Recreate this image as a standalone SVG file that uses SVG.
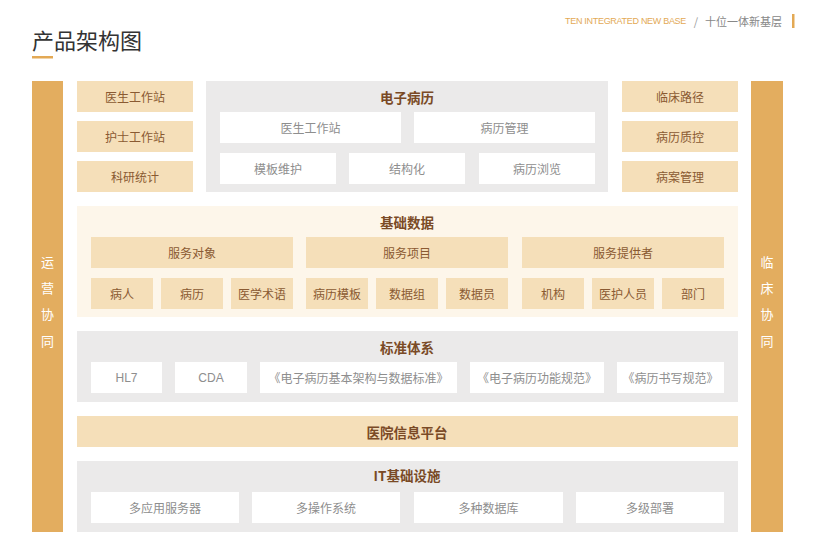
<svg xmlns="http://www.w3.org/2000/svg" width="830" height="558" viewBox="0 0 830 558">
<style>
text{font-family:"Noto Sans CJK SC","Noto Sans",sans-serif;text-anchor:middle;dominant-baseline:central}
.bar{fill:#e3ad5f}
.cream{fill:#f5dfb9}
.grey{fill:#ebeaea}
.light{fill:#fdf6ea}
.white{fill:#ffffff}
.t{font-size:12px;fill:#8a5a32}
.w{font-size:12px;fill:#8e8e8e}
.h{font-size:13.5px;font-weight:bold;fill:#7a4a26}
.v{font-size:13px;fill:#ffffff}
</style>
<rect width="830" height="558" fill="#ffffff"/>
<g id="header">
<text x="32" y="39" style="text-anchor:start;font-size:22px;fill:#333333">产品架构图</text>
<rect x="32" y="56" width="21" height="2.5" fill="#e3a955"/>
<text x="686" y="21" style="text-anchor:end;font-size:9px;fill:#e3a955;font-family:'Liberation Sans Narrow','Liberation Sans',sans-serif;letter-spacing:-0.3px">TEN INTEGRATED NEW BASE</text>
<text x="696" y="21" style="font-size:11px;fill:#999999">/</text>
<text x="705" y="21" style="text-anchor:start;font-size:11px;fill:#888888">十位一体新基层</text>
<rect x="792" y="14" width="2.5" height="14" fill="#e3a955"/>
</g>
<g id="left-bar">
<rect class="bar" x="32" y="81" width="31" height="451"/>
<text class="v" x="47.5" y="261">运</text>
<text class="v" x="47.5" y="287">营</text>
<text class="v" x="47.5" y="313">协</text>
<text class="v" x="47.5" y="340">同</text>
</g>
<g id="right-bar">
<rect class="bar" x="751" y="81" width="32" height="451"/>
<text class="v" x="767" y="261">临</text>
<text class="v" x="767" y="287">床</text>
<text class="v" x="767" y="313">协</text>
<text class="v" x="767" y="340">同</text>
</g>
<g id="left-apps">
<rect class="cream" x="77" y="81" width="116" height="31"/><text class="t" x="135" y="96.5">医生工作站</text>
<rect class="cream" x="77" y="121" width="116" height="31"/><text class="t" x="135" y="136.5">护士工作站</text>
<rect class="cream" x="77" y="161" width="116" height="31"/><text class="t" x="135" y="176.5">科研统计</text>
</g>
<g id="emr">
<rect class="grey" x="206" y="81" width="402" height="111"/>
<text class="h" x="407" y="97">电子病历</text>
<rect class="white" x="220" y="112" width="181" height="31"/><text class="w" x="310.5" y="127.5">医生工作站</text>
<rect class="white" x="414" y="112" width="181" height="31"/><text class="w" x="504.5" y="127.5">病历管理</text>
<rect class="white" x="220" y="153" width="116" height="31"/><text class="w" x="278" y="168.5">模板维护</text>
<rect class="white" x="349" y="153" width="116" height="31"/><text class="w" x="407" y="168.5">结构化</text>
<rect class="white" x="479" y="153" width="116" height="31"/><text class="w" x="537" y="168.5">病历浏览</text>
</g>
<g id="right-apps">
<rect class="cream" x="622" y="81" width="116" height="31"/><text class="t" x="680" y="96.5">临床路径</text>
<rect class="cream" x="622" y="121" width="116" height="31"/><text class="t" x="680" y="136.5">病历质控</text>
<rect class="cream" x="622" y="161" width="116" height="31"/><text class="t" x="680" y="176.5">病案管理</text>
</g>
<g id="base-data">
<rect class="light" x="77" y="206" width="661" height="111"/>
<text class="h" x="407" y="222">基础数据</text>
<rect class="cream" x="91" y="237" width="202" height="31"/><text class="t" x="192" y="252.5">服务对象</text>
<rect class="cream" x="306" y="237" width="202" height="31"/><text class="t" x="407" y="252.5">服务项目</text>
<rect class="cream" x="522" y="237" width="202" height="31"/><text class="t" x="623" y="252.5">服务提供者</text>
<rect class="cream" x="91" y="278" width="62" height="31"/><text class="t" x="122" y="293.5">病人</text>
<rect class="cream" x="161" y="278" width="62" height="31"/><text class="t" x="192" y="293.5">病历</text>
<rect class="cream" x="231" y="278" width="62" height="31"/><text class="t" x="262" y="293.5">医学术语</text>
<rect class="cream" x="306" y="278" width="62" height="31"/><text class="t" x="337" y="293.5">病历模板</text>
<rect class="cream" x="376" y="278" width="62" height="31"/><text class="t" x="407" y="293.5">数据组</text>
<rect class="cream" x="446" y="278" width="62" height="31"/><text class="t" x="477" y="293.5">数据员</text>
<rect class="cream" x="522" y="278" width="62" height="31"/><text class="t" x="553" y="293.5">机构</text>
<rect class="cream" x="592" y="278" width="62" height="31"/><text class="t" x="623" y="293.5">医护人员</text>
<rect class="cream" x="662" y="278" width="62" height="31"/><text class="t" x="693" y="293.5">部门</text>
</g>
<g id="standards">
<rect class="grey" x="77" y="331" width="661" height="71"/>
<text class="h" x="407" y="347">标准体系</text>
<rect class="white" x="91" y="362" width="71" height="31"/><text class="w" x="126.5" y="377.5" style="font-family:'Liberation Sans',sans-serif">HL7</text>
<rect class="white" x="175" y="362" width="72" height="31"/><text class="w" x="211" y="377.5" style="font-family:'Liberation Sans',sans-serif">CDA</text>
<rect class="white" x="260" y="362" width="197" height="31"/><text class="w" x="358.5" y="377.5">《电子病历基本架构与数据标准》</text>
<rect class="white" x="470" y="362" width="134" height="31"/><text class="w" x="537" y="377.5">《电子病历功能规范》</text>
<rect class="white" x="617" y="362" width="107" height="31"/><text class="w" x="670.5" y="377.5">《病历书写规范》</text>
</g>
<g id="platform">
<rect class="cream" x="77" y="416" width="661" height="31"/>
<text class="h" x="407" y="431.5">医院信息平台</text>
</g>
<g id="it-infra">
<rect class="grey" x="77" y="461" width="661" height="71"/>
<text class="h" x="407" y="475">IT基础设施</text>
<rect class="white" x="91" y="492" width="148" height="31"/><text class="w" x="165" y="507.5">多应用服务器</text>
<rect class="white" x="252" y="492" width="148" height="31"/><text class="w" x="326" y="507.5">多操作系统</text>
<rect class="white" x="414" y="492" width="149" height="31"/><text class="w" x="488.5" y="507.5">多种数据库</text>
<rect class="white" x="576" y="492" width="148" height="31"/><text class="w" x="650" y="507.5">多级部署</text>
</g>
<g id="connectors"></g>
</svg>
